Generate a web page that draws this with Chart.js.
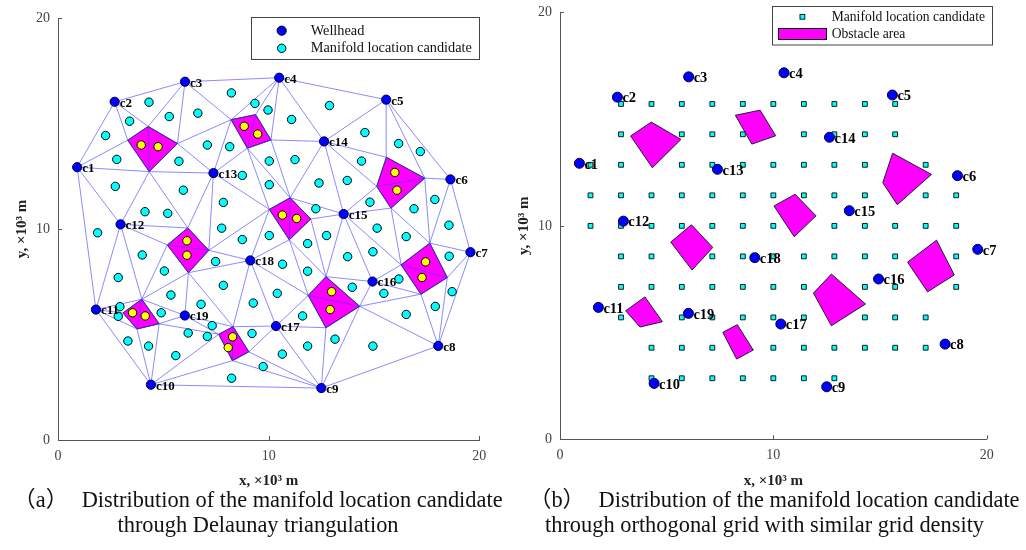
<!DOCTYPE html>
<html>
<head>
<meta charset="utf-8">
<script src="https://cdn.jsdelivr.net/npm/chart.js@4.4.1/dist/chart.umd.min.js"></script>
<style>
  body { margin: 0; width: 1026px; height: 550px; background: #fff; position: relative; overflow: hidden; }
  canvas { position: absolute; }
  #chartA { left: 0; top: 0; }
  #chartB { left: 500px; top: -4px; }
  .cap { position: absolute; top: 487px; font: 22.4px 'Liberation Serif', 'Noto Sans CJK SC', serif; line-height: 25px; color: #111; white-space: nowrap; }
  .cap .tag { margin-right: 8px; }
  #capA { left: -6px; width: 528px; text-align: center; }
  #capB { left: 529px; text-align: left; }
  #capB .l2 { padding-left: 16px; }
</style>
</head>
<body>
<canvas id="chartA" width="500" height="490"></canvas>
<canvas id="chartB" width="526" height="494"></canvas>
<div class="cap" id="capA"><span class="tag">（a）</span> Distribution of the manifold location candidate<br>through Delaunay triangulation</div>
<div class="cap" id="capB"><span class="tag">（b）</span> Distribution of the manifold location candidate<br><span class="l2">through orthogonal grid with similar grid density</span></div>
<script>
// wellheads, x / y in 10^3 m (same field in both panels)
const wellNames = ['c1','c2','c3','c4','c5','c6','c7','c8','c9','c10','c11','c12','c13','c14','c15','c16','c17','c18','c19'];
const wellX = [0.91, 2.69, 6.03, 10.50, 15.58, 18.63, 19.58, 18.05, 12.50, 4.41, 1.80, 2.97, 7.38, 12.63, 13.56, 14.93, 10.35, 9.13, 6.02];
const wellY = [12.93, 16.03, 16.98, 17.17, 16.13, 12.35, 8.90, 4.46, 2.46, 2.62, 6.18, 10.22, 12.65, 14.15, 10.71, 7.51, 5.40, 8.51, 5.90];

// obstacle corners, one row per obstacle
const obstacleX = [
  [3.31, 4.28, 5.67, 4.33], [8.22, 9.38, 10.11, 8.99], [15.59, 17.41, 15.81, 15.13],
  [10.03, 11.02, 12.00, 10.98], [5.19, 6.16, 7.16, 6.19], [3.08, 3.98, 4.80, 3.75],
  [7.63, 8.31, 9.06, 8.28], [11.88, 12.72, 14.32, 12.72], [16.29, 17.65, 18.48, 17.23]
];
const obstacleY = [
  [14.21, 14.86, 14.05, 12.72], [15.18, 15.42, 14.22, 13.83], [13.40, 12.41, 10.99, 12.02],
  [10.93, 11.48, 10.47, 9.49], [9.24, 10.05, 8.99, 7.93], [6.02, 6.67, 5.51, 5.26],
  [5.01, 5.37, 4.18, 3.76], [6.85, 7.74, 6.34, 5.32], [8.30, 9.33, 7.70, 6.91]
];

// panel (a): candidates in the triangulation
const candX = [4.32,3.40,5.28,6.64,8.23,9.35,2.26,2.79,5.74,7.09,8.15,8.75,2.72,5.95,7.85,4.13,5.21,7.77,1.88,8.75,
  9.97,11.09,12.89,14.57,16.17,17.20,10.03,11.25,10.03,12.39,13.73,14.41,17.89,14.81,16.90,18.56,12.24,15.15,16.53,12.75,10.03,
  11.85,14.95,13.75,10.66,11.85,18.57,16.18,15.47,13.97,10.41,9.27,18.71,17.91,16.53,11.61,9.21,13.15,11.85,14.95,10.65,9.74,
  4.00,5.05,2.86,7.48,7.85,5.36,6.79,2.94,2.86,4.90,7.32,6.18,7.09,3.32,4.30,5.59,8.24];
const candY = [16.01,15.11,15.33,15.49,16.45,15.95,14.43,13.30,13.21,13.98,13.90,12.54,12.02,11.84,11.26,10.82,10.74,10.04,9.82,9.50,
  15.64,15.19,15.85,14.57,14.05,13.67,13.22,13.29,12.10,12.18,12.30,13.22,11.40,11.27,10.96,10.18,10.96,10.04,9.64,9.69,9.69,
  9.31,8.92,8.69,8.33,8.00,8.71,7.63,6.95,7.24,6.95,6.49,7.03,6.33,5.95,5.88,5.05,4.78,4.45,4.45,4.07,3.48,
  8.77,8.01,7.70,8.46,7.33,6.87,6.43,6.32,5.86,6.03,5.42,5.07,4.91,4.69,4.45,4.00,2.93];
// candidates falling inside obstacles
const blockedX = [3.95, 4.75, 8.84, 9.48, 15.99, 16.09, 10.65, 11.33, 6.12, 6.12, 3.54, 4.14, 8.29, 8.08, 12.99, 12.92, 17.45, 17.28];
const blockedY = [13.98, 13.90, 14.87, 14.50, 12.68, 11.84, 10.66, 10.50, 9.44, 8.76, 6.03, 5.88, 4.89, 4.38, 7.03, 6.18, 8.44, 7.70];

// panel (b): orthogonal grid, one mask row per grid line (top to bottom)
const gridX = [1.43, 2.86, 4.29, 5.71, 7.14, 8.57, 10, 11.43, 12.86, 14.29, 15.71, 17.14, 18.57];
const gridY = [15.71, 14.29, 12.86, 11.43, 10, 8.57, 7.14, 5.71, 4.29, 2.86];
const gridMask = [
  '0111111111100',
  '0101110111100',
  '1101111111010',
  '1111111111011',
  '1111111011111',
  '0110111111101',
  '0111111101101',
  '0101111101110',
  '0011101111110',
  '0011111110000'
];

const serif = "'Liberation Serif', 'Times New Roman', serif";

// Bowyer-Watson triangulation over wellheads + obstacle corners
function delaunay(xs, ys) {
  const n = xs.length;
  const px = xs.concat([-1e4, 1e4, 0]);
  const py = ys.concat([-1e4, -1e4, 1e4]);
  function circum(a, b, c) {
    const ax = px[a], ay = py[a], bx = px[b], by = py[b], cx = px[c], cy = py[c];
    const d = 2 * (ax * (by - cy) + bx * (cy - ay) + cx * (ay - by));
    const a2 = ax * ax + ay * ay, b2 = bx * bx + by * by, c2 = cx * cx + cy * cy;
    const ux = (a2 * (by - cy) + b2 * (cy - ay) + c2 * (ay - by)) / d;
    const uy = (a2 * (cx - bx) + b2 * (ax - cx) + c2 * (bx - ax)) / d;
    return { v: [a, b, c], ux, uy, r2: (ax - ux) ** 2 + (ay - uy) ** 2 };
  }
  let tris = [circum(n, n + 1, n + 2)];
  for (let i = 0; i < n; i++) {
    const keep = [], edges = new Map();
    tris.forEach(t => {
      const dx = px[i] - t.ux, dy = py[i] - t.uy;
      if (dx * dx + dy * dy < t.r2) {
        const [a, b, c] = t.v;
        [[a, b], [b, c], [c, a]].forEach(([p, q]) => {
          const k = Math.min(p, q) + '_' + Math.max(p, q);
          edges.set(k, edges.has(k) ? null : [p, q]);
        });
      } else keep.push(t);
    });
    tris = keep;
    edges.forEach(e => { if (e) tris.push(circum(e[0], e[1], i)); });
  }
  return tris.filter(t => t.v.every(v => v < n)).map(t => t.v);
}

const nodeX = wellX.concat(obstacleX.flat());
const nodeY = wellY.concat(obstacleY.flat());
const edgeSet = new Set();
const edgeData = [];
delaunay(nodeX, nodeY).forEach(([a, b, c]) => {
  [[a, b], [b, c], [c, a]].forEach(([p, q]) => {
    const k = Math.min(p, q) + '_' + Math.max(p, q);
    if (edgeSet.has(k)) return;
    edgeSet.add(k);
    edgeData.push({x: nodeX[p], y: nodeY[p]}, {x: nodeX[q], y: nodeY[q]}, {x: nodeX[q], y: null});
  });
});

const toPts = (xs, ys) => xs.map((v, i) => ({x: v, y: ys[i]}));
const wellPts = toPts(wellX, wellY);

const obstacleSets = obstacleX.map((xs, i) => ({
  data: toPts(xs.concat(xs[0]), obstacleY[i].concat(obstacleY[i][0])),
  showLine: true,
  fill: 'shape',
  backgroundColor: '#ff00ff',
  borderColor: '#1c1c3a',
  borderWidth: 1,
  pointRadius: 0,
  order: 6
}));

const gridPts = [];
gridMask.forEach((row, r) => {
  row.split('').forEach((on, c) => { if (on === '1') gridPts.push({x: gridX[c], y: gridY[r]}); });
});

function axes(yWidth, xHeight, yTitlePad) {
  const tickFont = {family: serif, size: 14};
  const titleFont = {family: serif, size: 15, weight: 'bold'};
  return {
    x: {
      type: 'linear', min: 0, max: 20,
      ticks: {stepSize: 10, font: tickFont, color: '#444', padding: 8},
      grid: {display: false, drawTicks: false},
      border: {display: true, color: '#555', width: 1},
      title: {display: true, text: 'x, ×10³ m', font: titleFont, color: '#222', padding: {top: 0, bottom: 0}},
      afterFit: s => { s.height = xHeight; }
    },
    y: {
      type: 'linear', min: 0, max: 20,
      ticks: {stepSize: 10, font: tickFont, color: '#444', padding: 8},
      grid: {display: false, drawTicks: false},
      border: {display: true, color: '#555', width: 1},
      title: {display: true, text: 'y, ×10³ m', font: titleFont, color: '#222', padding: {top: yTitlePad, bottom: 0}},
      afterFit: s => { s.width = yWidth; }
    }
  };
}

// wellhead names, inward tick marks and the boxed legend
function decor(labelSize, drawLegend) {
  return {
    id: 'decor',
    afterDatasetsDraw(chart) {
      const {ctx, scales: {x, y}} = chart;
      ctx.save();
      ctx.font = `bold ${labelSize}px ${serif}`;
      ctx.fillStyle = '#000';
      ctx.textAlign = 'left';
      ctx.textBaseline = 'middle';
      wellNames.forEach((name, i) => {
        ctx.fillText(name, x.getPixelForValue(wellX[i]) + 5, y.getPixelForValue(wellY[i]) + 1.5);
      });
      ctx.strokeStyle = '#555';
      ctx.lineWidth = 1;
      x.ticks.forEach(t => {
        const p = Math.round(x.getPixelForValue(t.value)) + 0.5;
        ctx.beginPath(); ctx.moveTo(p, y.bottom); ctx.lineTo(p, y.bottom - 4); ctx.stroke();
      });
      y.ticks.forEach(t => {
        const p = Math.round(y.getPixelForValue(t.value)) + 0.5;
        ctx.beginPath(); ctx.moveTo(x.left, p); ctx.lineTo(x.left + 4, p); ctx.stroke();
      });
      drawLegend(ctx);
      ctx.restore();
    }
  };
}

function legendBox(ctx, x, y, w, h) {
  ctx.fillStyle = '#fff';
  ctx.fillRect(x, y, w, h);
  ctx.strokeStyle = '#444';
  ctx.lineWidth = 1;
  ctx.strokeRect(x, y, w, h);
}

function dot(ctx, x, y, r, fill) {
  ctx.beginPath();
  ctx.arc(x, y, r, 0, Math.PI * 2);
  ctx.fillStyle = fill;
  ctx.fill();
  ctx.strokeStyle = '#000';
  ctx.lineWidth = 1;
  ctx.stroke();
}

const base = {
  responsive: false,
  animation: false,
  events: [],
  plugins: {legend: {display: false}, tooltip: {enabled: false}}
};

new Chart(document.getElementById('chartA'), {
  type: 'scatter',
  data: {
    datasets: [
      ...obstacleSets,
      {data: edgeData, showLine: true, spanGaps: false, borderColor: 'rgba(60, 60, 255, 0.75)', borderWidth: 0.8, pointRadius: 0, order: 5},
      {data: toPts(candX, candY), pointRadius: 4.2, backgroundColor: '#00ffff', borderColor: '#000', borderWidth: 1, order: 3},
      {data: toPts(blockedX, blockedY), pointRadius: 4.2, backgroundColor: '#ffff00', borderColor: '#000', borderWidth: 1, order: 2},
      {data: wellPts, pointRadius: 4.6, backgroundColor: '#0000ff', borderColor: '#000033', borderWidth: 1, order: 1}
    ]
  },
  options: {
    ...base,
    layout: {padding: {left: 0, top: 18, right: 20.7, bottom: 0}},
    scales: axes(58, 50, 13)
  },
  plugins: [decor(13, ctx => {
    legendBox(ctx, 251.5, 17.5, 228, 42);
    dot(ctx, 281.7, 30.7, 4.6, '#0000ff');
    dot(ctx, 281.7, 48.3, 4.2, '#00ffff');
    ctx.fillStyle = '#111';
    ctx.font = `14.3px ${serif}`;
    ctx.textBaseline = 'middle';
    ctx.fillText('Wellhead', 310.7, 31);
    ctx.fillText('Manifold location candidate', 310.7, 48.5);
  })]
});

new Chart(document.getElementById('chartB'), {
  type: 'scatter',
  data: {
    datasets: [
      ...obstacleSets,
      {data: gridPts, pointStyle: 'rect', pointRadius: 3.4, backgroundColor: '#00ffff', borderColor: '#1a1a1a', borderWidth: 1, order: 3},
      {data: wellPts, pointRadius: 5, backgroundColor: '#0000ff', borderColor: '#000033', borderWidth: 1, order: 1}
    ]
  },
  options: {
    ...base,
    layout: {padding: {left: 0, top: 12, right: 39.3, bottom: 0}},
    scales: axes(60, 50.7, 15)
  },
  plugins: [decor(14.5, ctx => {
    legendBox(ctx, 272.5, 10.5, 220, 38.5);
    ctx.fillStyle = '#00ffff';
    ctx.fillRect(300, 18.4, 4.8, 4.8);
    ctx.strokeStyle = '#1a1a1a';
    ctx.strokeRect(300, 18.4, 4.8, 4.8);
    ctx.fillStyle = '#ff00ff';
    ctx.fillRect(278.5, 32.5, 48, 11);
    ctx.strokeStyle = '#000';
    ctx.strokeRect(278.5, 32.5, 48, 11);
    ctx.fillStyle = '#111';
    ctx.font = `13.6px ${serif}`;
    ctx.textBaseline = 'middle';
    ctx.fillText('Manifold location candidate', 331.7, 21);
    ctx.fillText('Obstacle area', 331.7, 38);
  })]
});
</script>
</body>
</html>
